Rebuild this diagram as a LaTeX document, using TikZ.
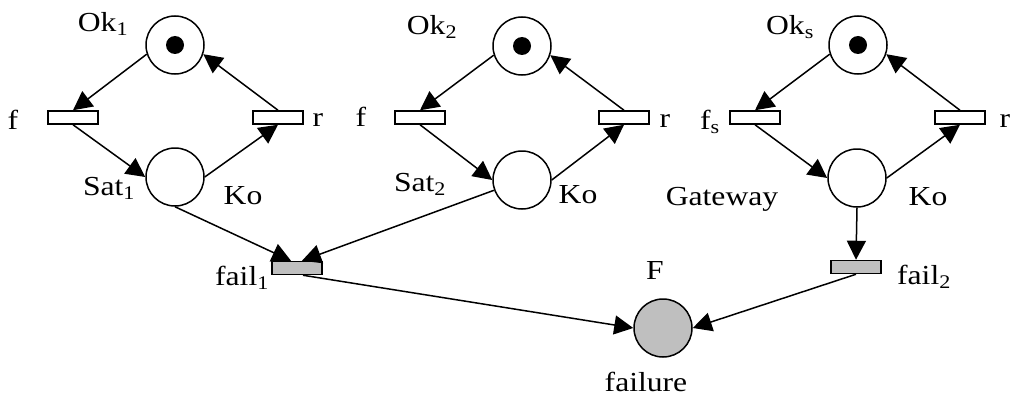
\documentclass[tikz,border=0pt]{standalone}
\usepackage{fontspec}
\setmainfont{Liberation Serif}[FakeStretch=1.15]
\usetikzlibrary{arrows.meta}
\begin{document}
\begin{tikzpicture}[x=1pt,y=-1pt,
  place/.style={circle,draw,fill=white,minimum size=58pt,inner sep=0pt,line width=1.5pt},
  failplace/.style={place,fill=gray!50},
  trans/.style={rectangle,draw,fill=white,minimum width=50pt,minimum height=13pt,inner sep=0pt,line width=1.5pt},
  failtrans/.style={trans,fill=gray!50},
  lbl/.style={inner sep=0pt,font=\fontsize{27.5}{30}\selectfont},
  arc/.style={-{Triangle[length=19pt,width=19pt]},line width=1.5pt}]
\useasboundingbox (0,0) rectangle (1017,396);
% net 1
\node[place] (ok1) at (175,45) {};
\node[trans] (f1) at (73,117.5) {};
\node[trans] (r1) at (278,117.5) {};
\node[place] (sat1) at (175,177) {};
% net 2
\node[place] (ok2) at (522,46) {};
\node[trans] (f2) at (420,117.5) {};
\node[trans] (r2) at (624,117.5) {};
\node[place] (sat2) at (522,180) {};
% net 3
\node[place] (ok3) at (858,45) {};
\node[trans] (f3) at (755,117.5) {};
\node[trans] (r3) at (960,117.5) {};
\node[place] (sat3) at (857,178) {};
% failure part
\node[failtrans] (fail1) at (297,268) {};
\node[failtrans] (fail2) at (856,267) {};
\node[failplace] (F) at (663,328) {};
% tokens
\fill (ok1) circle (9);
\fill (ok2) circle (9);
\fill (ok3) circle (9);
% arcs
\foreach \i in {1,2,3}{
  \draw[arc] (ok\i.198) -- (f\i.north);
  \draw[arc] (f\i.south) -- (sat\i.west);
  \draw[arc] (sat\i.east) -- (r\i.south);
  \draw[arc] (r\i.north) -- (ok\i.-18);
}
\coordinate (in1a) at ([xshift=-6pt]fail1.north);
\coordinate (in1b) at ([xshift=5pt]fail1.north);
\coordinate (out1) at ([xshift=6pt]fail1.south);
\draw[arc] (sat1.south) -- (in1a);
\draw[arc] (sat2) -- (in1b);
\draw[arc] (sat3.south) -- (fail2.north);
\draw[arc] (out1) -- (F.west);
\draw[arc] (fail2.south) -- (F.east);
% labels
\node[lbl] (lok1) at (103,24) {Ok\textsubscript{1}};
\node[lbl] (lf1) at (13,120) {f};
\node[lbl] (lr1) at (318,120) {r};
\node[lbl] (lsat1) at (109,188) {Sat\textsubscript{1}};
\node[lbl] (lko1) at (243,196) {Ko};
\node[lbl] (lok2) at (432,27) {Ok\textsubscript{2}};
\node[lbl] (lf2) at (361,117) {f};
\node[lbl] (lr2) at (665,121) {r};
\node[lbl] (lsat2) at (420,184) {Sat\textsubscript{2}};
\node[lbl] (lko2) at (578,195) {Ko};
\node[lbl] (lok3) at (790,27) {Ok\textsubscript{s}};
\node[lbl] (lf3) at (710,122) {f\textsubscript{s}};
\node[lbl] (lr3) at (1005,121) {r};
\node[lbl] (lgw) at (722,199) {Gateway};
\node[lbl] (lko3) at (928,197) {Ko};
\node[lbl] (lfail1) at (242,278) {fail\textsubscript{1}};
\node[lbl] (lfail2) at (924,277) {fail\textsubscript{2}};
\node[lbl] (lF) at (655,270) {F};
\node[lbl] (lfailure) at (646,382) {failure};
\end{tikzpicture}
\end{document}
